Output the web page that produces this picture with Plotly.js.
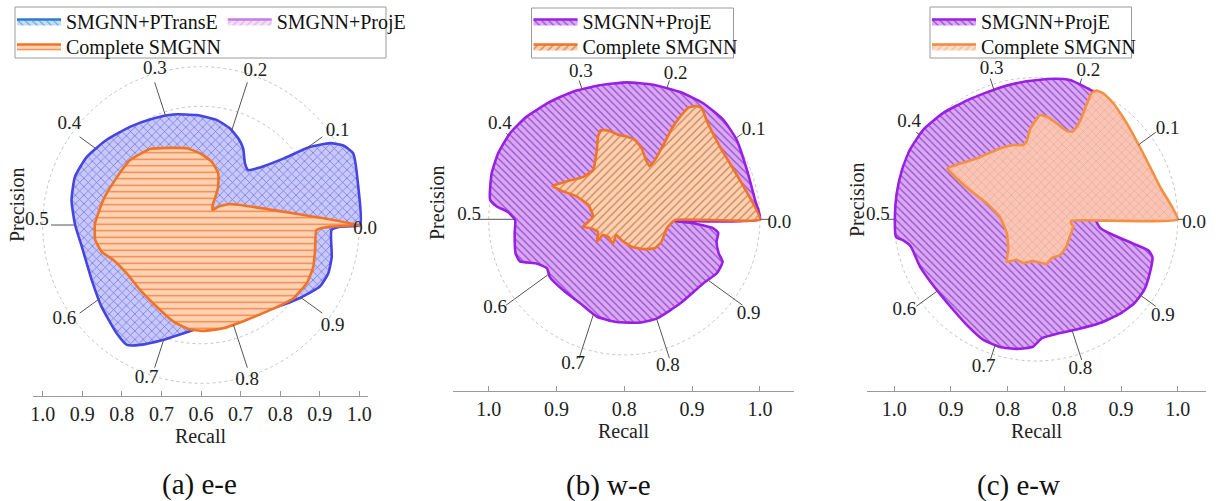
<!DOCTYPE html>
<html>
<head>
<meta charset="utf-8">
<script src="https://cdn.plot.ly/plotly-3.0.1.min.js"></script>
<style>html,body{margin:0;padding:0;background:#fff}#chart{width:1216px;height:501px}</style>
</head>
<body>
<div id="chart"></div>
<script>
// ---------------- data ----------------
const precisionTicks = [0.0, 0.1, 0.2, 0.3, 0.4, 0.5, 0.6, 0.7, 0.8, 0.9];
const recallTicksEE = [1.0, 0.9, 0.8, 0.7, 0.6, 0.7, 0.8, 0.9, 1.0];
const recallTicksWE = [1.0, 0.9, 0.8, 0.9, 1.0];
const recallTicksEW = [1.0, 0.9, 0.8, 0.8, 0.9, 1.0];
const recallCenterEE = 0.6, recallCenterWE = 0.8, recallCenterEW = 0.75;
const gridRecallEE = [0.9, 1.0], gridRecallWE = [1.0], gridRecallEW = [1.0];

// (a) e-e : SMGNN+PTransE
const eePTransEPrecision = [0.000,0.038,0.070,0.081,0.090,0.099,0.108,0.123,0.137,0.151,0.170,0.185,0.204,0.226,0.256,0.289,0.317,0.349,0.383,0.414,0.442,0.470,0.500,0.529,0.574,0.609,0.645,0.662,0.675,0.699,0.739,0.796,0.859,0.899,0.924,0.942,0.962,0.994,0.998];
const eePTransERecall    = [1.002,1.009,1.025,1.012,0.986,0.938,0.867,0.808,0.783,0.791,0.821,0.838,0.855,0.868,0.878,0.888,0.895,0.906,0.921,0.936,0.941,0.933,0.918,0.906,0.909,0.925,0.947,0.956,0.940,0.906,0.866,0.856,0.875,0.911,0.938,0.944,0.940,0.930,0.951];
// (a) e-e : Complete SMGNN
const eeCompletePrecision = [0.000,0.100,0.129,0.144,0.166,0.173,0.183,0.199,0.223,0.252,0.279,0.311,0.344,0.382,0.423,0.460,0.498,0.522,0.542,0.561,0.592,0.630,0.671,0.706,0.731,0.753,0.784,0.821,0.859,0.893,0.920,0.943,0.966,0.993,0.998];
const eeCompleteRecall    = [1.000,0.690,0.664,0.648,0.659,0.676,0.706,0.738,0.762,0.781,0.797,0.810,0.831,0.843,0.845,0.855,0.868,0.870,0.860,0.838,0.824,0.825,0.835,0.854,0.865,0.868,0.867,0.866,0.877,0.898,0.905,0.903,0.895,0.892,0.926];

// (b) w-e : SMGNN+ProjE
const weProjEPrecision = [0.000,0.023,0.061,0.098,0.125,0.155,0.184,0.216,0.247,0.279,0.311,0.340,0.371,0.397,0.423,0.447,0.477,0.484,0.490,0.501,0.520,0.548,0.561,0.574,0.590,0.605,0.637,0.673,0.706,0.738,0.774,0.800,0.843,0.892,0.916,0.935,0.945,0.962,0.977,0.984,0.991,0.995];
const weProjERecall    = [1.000,0.995,0.995,1.003,1.007,1.007,1.005,1.003,1.002,1.001,1.003,1.005,1.009,1.011,1.010,1.007,1.000,0.989,0.972,0.961,0.963,0.968,0.966,0.945,0.935,0.939,0.938,0.940,0.949,0.952,0.954,0.954,0.949,0.950,0.958,0.958,0.948,0.940,0.940,0.932,0.902,0.872];
// (b) w-e : Complete SMGNN
const weCompletePrecision = [0.000,0.052,0.103,0.140,0.153,0.160,0.167,0.170,0.173,0.173,0.174,0.179,0.194,0.212,0.229,0.245,0.264,0.278,0.291,0.299,0.310,0.340,0.372,0.408,0.431,0.432,0.429,0.440,0.487,0.528,0.543,0.571,0.609,0.600,0.632,0.680,0.673,0.730,0.792,0.840,0.879,0.914,0.967,0.998];
const weCompleteRecall    = [1.000,0.980,0.977,0.990,1.000,0.998,0.990,0.976,0.955,0.924,0.899,0.887,0.893,0.908,0.918,0.922,0.926,0.933,0.936,0.928,0.910,0.886,0.887,0.902,0.917,0.904,0.878,0.857,0.846,0.862,0.850,0.843,0.852,0.839,0.835,0.840,0.826,0.831,0.842,0.852,0.862,0.864,0.864,0.875];

// (c) e-w : SMGNN+ProjE
const ewProjEPrecision = [0.001,0.032,0.071,0.113,0.150,0.174,0.183,0.198,0.212,0.230,0.261,0.293,0.330,0.364,0.393,0.420,0.444,0.471,0.497,0.520,0.525,0.534,0.562,0.599,0.629,0.658,0.684,0.706,0.727,0.746,0.758,0.783,0.806,0.838,0.866,0.887,0.908,0.930,0.950,0.957,0.961,0.968,0.979,0.996];
const ewProjERecall    = [0.995,0.976,0.966,0.969,0.981,0.997,0.997,1.000,1.003,1.000,0.994,0.991,0.992,0.999,1.004,1.004,1.002,1.000,0.999,0.999,0.987,0.976,0.971,0.965,0.966,0.973,0.982,0.984,0.981,0.975,0.960,0.955,0.957,0.965,0.973,0.978,0.978,0.972,0.966,0.956,0.927,0.889,0.864,0.857];
// (c) e-w : Complete SMGNN
const ewCompletePrecision = [0.000,0.041,0.088,0.129,0.156,0.172,0.180,0.184,0.184,0.183,0.184,0.188,0.197,0.216,0.233,0.244,0.252,0.261,0.269,0.277,0.297,0.325,0.373,0.399,0.417,0.422,0.434,0.450,0.489,0.571,0.633,0.654,0.679,0.705,0.740,0.787,0.811,0.844,0.884,0.925,0.969,0.982,0.994];
const ewCompleteRecall    = [1.000,0.976,0.972,0.983,0.996,1.002,1.001,0.993,0.973,0.948,0.928,0.917,0.915,0.923,0.932,0.934,0.922,0.908,0.888,0.883,0.887,0.890,0.900,0.916,0.930,0.915,0.877,0.841,0.814,0.807,0.823,0.841,0.829,0.830,0.824,0.831,0.824,0.826,0.822,0.817,0.817,0.812,0.813];

const seriesNames = ['SMGNN+PTransE', 'SMGNN+ProjE', 'Complete SMGNN'];
const captions = ['(a) e-e', '(b) w-e', '(c) e-w'];

// ---------------- styling / layout geometry ----------------
const W = 1216, H = 501;
const SERIF = 'Liberation Serif, Times New Roman, serif';
const TXT = '#222';
const panels = [
  {ax: '', cx: 201, cy: 225, rpx: 158.3, axisY: 395.7, x0: 33, x1: 368, labelPx: 152, leadPx: 150,
   center: recallCenterEE, ticks: recallTicksEE, grid: gridRecallEE, precX: 17, precY: 205, capX: 199, capY: 484,
   box: [15, 386, 7, 58]},
  {ax: '2', cx: 624.3, cy: 219.3, rpx: 135.6, axisY: 391, x0: 453, x1: 794, labelPx: 143, leadPx: 146,
   center: recallCenterWE, ticks: recallTicksWE, grid: gridRecallWE, precX: 437, precY: 203, capX: 608, capY: 485,
   box: [531.5, 733.5, 8, 58]},
  {ax: '3', cx: 1036, cy: 219.3, rpx: 141.7, axisY: 391, x0: 867, x1: 1206, labelPx: 146, leadPx: 148,
   center: recallCenterEW, ticks: recallTicksEW, grid: gridRecallEW, precX: 857, precY: 200, capX: 1018, capY: 485,
   box: [930, 1131.5, 7, 58]}
];

const styles = {
  blue:   {line: '#4545e2', pat: {shape: 'x', bgcolor: '#c9c9f7', fgcolor: '#7272ea', size: 6, solidity: 0.24, fillmode: 'replace'}},
  purple: {line: '#9a1fe4', pat: {shape: '\\', bgcolor: '#dca8f3', fgcolor: '#9354cc', size: 5, solidity: 0.27, fillmode: 'replace'}},
  orangeA:{line: '#f07326', pat: {shape: '-', bgcolor: '#fdd3b4', fgcolor: '#f08040', size: 6.5, solidity: 0.2, fillmode: 'replace'}},
  orangeB:{line: '#f07326', pat: {shape: '/', bgcolor: '#fcd1b2', fgcolor: '#c98258', size: 5.5, solidity: 0.22, fillmode: 'replace'}},
  orangeC:{line: '#f39042', pat: {shape: 'x', bgcolor: '#f9c6b6', fgcolor: '#eb9c92', size: 6, solidity: 0.18, fillmode: 'replace'}},
  legPTransE: {line: '#2f7acb', pat: {shape: '\\', bgcolor: '#c2dff6', fgcolor: '#6aa2d8', size: 5, solidity: 0.22, fillmode: 'replace'}},
  legProjEa:  {line: '#c77be8', pat: {shape: '/', bgcolor: '#f4def9', fgcolor: '#dcb0ee', size: 5, solidity: 0.22, fillmode: 'replace'}},
  legOrangeC: {line: '#f08a3c', pat: {shape: '/', bgcolor: '#fcdcc8', fgcolor: '#f0b896', size: 5, solidity: 0.22, fillmode: 'replace'}}
};

// ---------------- helpers ----------------
function toXY(ps, rs, c) {
  const x = ps.map((p, i) => (rs[i] - c) * Math.cos(2 * Math.PI * p));
  const y = ps.map((p, i) => (rs[i] - c) * Math.sin(2 * Math.PI * p));
  return {x: x, y: y};
}
function closed(a) { return a.concat([a[0]]); }
function rayHit(xs, ys, th) {
  const dx = Math.cos(th), dy = Math.sin(th);
  let best = 0;
  const n = xs.length;
  for (let i = 0; i < n; i++) {
    const ax = xs[i], ay = ys[i], bx = xs[(i + 1) % n], by = ys[(i + 1) % n];
    const ex = bx - ax, ey = by - ay;
    const D = ex * dy - dx * ey;
    if (Math.abs(D) < 1e-12) continue;
    const t = (ex * ay - ax * ey) / D;
    const u = (dx * ay - dy * ax) / D;
    if (t > 0 && u >= -1e-9 && u <= 1 + 1e-9) best = Math.max(best, t);
  }
  return best;
}

const traces = [];
function shapeTrace(pi, ps, rs, name, st, legendOpts, smooth) {
  const P = panels[pi];
  const xy = toXY(ps, rs, P.center);
  const t = {
    type: 'scatter', mode: 'lines', name: name,
    x: closed(xy.x), y: closed(xy.y),
    xaxis: 'x' + P.ax, yaxis: 'y' + P.ax,
    fill: 'toself', fillcolor: st.pat.bgcolor, fillpattern: st.pat,
    line: {color: st.line, width: 2.6, shape: 'spline', smoothing: smooth},
    hoverinfo: 'skip', showlegend: false
  };
  if (legendOpts) Object.assign(t, legendOpts, {showlegend: true});
  traces.push(t);
  return xy;
}
function legendDummy(pi, name, st, legendOpts) {
  const P = panels[pi];
  traces.push(Object.assign({
    type: 'scatter', mode: 'lines', name: name, x: [null], y: [null],
    xaxis: 'x' + P.ax, yaxis: 'y' + P.ax,
    fill: 'toself', fillcolor: st.pat.bgcolor, fillpattern: st.pat,
    line: {color: st.line, width: 2.6}, hoverinfo: 'skip', showlegend: true
  }, legendOpts));
}
function decorations(pi, outlines) {
  const P = panels[pi];
  const s = P.rpx / (1.0 - P.center);
  const lx = [], ly = [], tx = [], ty = [], tt = [];
  precisionTicks.forEach(function (p) {
    const th = 2 * Math.PI * p;
    let hit = 0;
    outlines.forEach(function (o) { hit = Math.max(hit, rayHit(o.x, o.y, th)); });
    const rOut = P.leadPx / s;
    if (hit < rOut - 2 / s) {
      lx.push(rOut * Math.cos(th), hit * Math.cos(th), null);
      ly.push(rOut * Math.sin(th), hit * Math.sin(th), null);
    }
    const thl = th - 1.5 * Math.PI / 180;
    // label sits just outside the ring; offset grows with the text's half-extent in that direction
    const rl = (P.labelPx + 12 * Math.abs(Math.cos(thl)) + 7 * Math.abs(Math.sin(thl))) / s;
    tx.push(rl * Math.cos(thl)); ty.push(rl * Math.sin(thl)); tt.push(p.toFixed(1));
  });
  traces.push({type: 'scatter', mode: 'lines', x: lx, y: ly, xaxis: 'x' + P.ax, yaxis: 'y' + P.ax,
    line: {color: '#555', width: 1}, hoverinfo: 'skip', showlegend: false});
  traces.push({type: 'scatter', mode: 'text', x: tx, y: ty, text: tt, xaxis: 'x' + P.ax, yaxis: 'y' + P.ax,
    textposition: 'middle center', textfont: {family: SERIF, size: 19, color: TXT},
    cliponaxis: false, hoverinfo: 'skip', showlegend: false});
}

// ---------------- panel (a) ----------------
const aOuter = shapeTrace(0, eePTransEPrecision, eePTransERecall, seriesNames[0], styles.blue, null, 0.5);
legendDummy(0, seriesNames[0], styles.legPTransE, {legend: 'legend'});
legendDummy(0, seriesNames[1], styles.legProjEa, {legend: 'legend'});
const aInner = shapeTrace(0, eeCompletePrecision, eeCompleteRecall, seriesNames[2], styles.orangeA,
  {legend: 'legend4'}, 0.4);
decorations(0, [aOuter, aInner]);

// ---------------- panel (b) ----------------
const bOuter = shapeTrace(1, weProjEPrecision, weProjERecall, seriesNames[1], styles.purple, {legend: 'legend2'}, 0.5);
const bInner = shapeTrace(1, weCompletePrecision, weCompleteRecall, seriesNames[2], styles.orangeB, {legend: 'legend5'}, 0.35);
decorations(1, [bOuter, bInner]);

// ---------------- panel (c) ----------------
const cOuter = shapeTrace(2, ewProjEPrecision, ewProjERecall, seriesNames[1], styles.purple, {legend: 'legend3'}, 0.5);
const cInner = shapeTrace(2, ewCompletePrecision, ewCompleteRecall, seriesNames[2], styles.orangeC, null, 0.35);
legendDummy(2, seriesNames[2], styles.legOrangeC, {legend: 'legend6'});
decorations(2, [cOuter, cInner]);

// ---------------- layout ----------------
const layout = {
  width: W, height: H, autosize: false,
  margin: {l: 0, r: 0, t: 0, b: 0},
  paper_bgcolor: '#fff', plot_bgcolor: 'rgba(0,0,0,0)',
  font: {family: SERIF, size: 18, color: TXT},
  shapes: [], annotations: []
};
function legendRow(P, row) {
  return {
    xanchor: 'left', yanchor: 'middle', orientation: 'h',
    x: (P.box[0] - 3) / W, y: 1 - (row === 0 ? 21.5 : 46.5) / H,
    bgcolor: 'rgba(0,0,0,0)', borderwidth: 0,
    font: {family: SERIF, size: 20, color: '#111'}, itemwidth: 44, traceorder: 'normal'
  };
}
layout.legend  = legendRow(panels[0], 0);
layout.legend4 = legendRow(panels[0], 1);
layout.legend2 = legendRow(panels[1], 0);
layout.legend5 = legendRow(panels[1], 1);
layout.legend3 = legendRow(panels[2], 0);
layout.legend6 = legendRow(panels[2], 1);

panels.forEach(function (P, i) {
  const s = P.rpx / (1.0 - P.center);
  const n = P.ticks.length;
  const tickvals = P.ticks.map(function (v, k) {
    const d = v - P.center;
    return (k < n / 2 - 0.01) ? -d : d;
  });
  const ticktext = P.ticks.map(function (v) { return v.toFixed(1); });
  layout['xaxis' + P.ax] = {
    domain: [P.x0 / W, P.x1 / W],
    range: [(P.x0 - P.cx) / s, (P.x1 - P.cx) / s],
    anchor: 'y' + P.ax, side: 'bottom',
    tickmode: 'array', tickvals: tickvals, ticktext: ticktext,
    ticks: 'inside', ticklen: 5, tickwidth: 1, tickcolor: '#999',
    showline: true, linecolor: '#9a9a9a', linewidth: 1,
    showgrid: false, zeroline: false, fixedrange: true,
    tickfont: {family: SERIF, size: 20, color: TXT},
    title: {text: 'Recall', font: {family: SERIF, size: 20, color: TXT}, standoff: 3}
  };
  layout['yaxis' + P.ax] = {
    domain: [1 - P.axisY / H, 1],
    range: [(P.cy - P.axisY) / s, P.cy / s],
    anchor: 'x' + P.ax, showgrid: false, zeroline: false, showline: false,
    showticklabels: false, ticks: '', fixedrange: true
  };
  P.grid.forEach(function (g) {
    const r = g - P.center;
    layout.shapes.push({type: 'circle', xref: 'x' + P.ax, yref: 'y' + P.ax, layer: 'below',
      x0: -r, x1: r, y0: -r, y1: r, line: {color: '#c4c4c4', width: 1, dash: 'dot'}});
  });
  // legend frame
  layout.shapes.push({type: 'rect', xref: 'paper', yref: 'paper', layer: 'above',
    x0: P.box[0] / W, x1: P.box[1] / W, y0: 1 - P.box[3] / H, y1: 1 - P.box[2] / H,
    fillcolor: '#ffffff', line: {color: '#9a9a9a', width: 1}});
  layout.annotations.push({xref: 'paper', yref: 'paper', x: P.precX / W, y: 1 - P.precY / H,
    text: 'Precision', textangle: -90, showarrow: false, xanchor: 'center', yanchor: 'middle',
    font: {family: SERIF, size: 20, color: TXT}});
  layout.annotations.push({xref: 'paper', yref: 'paper', x: P.capX / W, y: 1 - P.capY / H,
    text: captions[i], showarrow: false, xanchor: 'center', yanchor: 'middle',
    font: {family: SERIF, size: 29, color: '#111'}});
});

Plotly.newPlot('chart', traces, layout, {displayModeBar: false, staticPlot: true});
</script>
</body>
</html>
